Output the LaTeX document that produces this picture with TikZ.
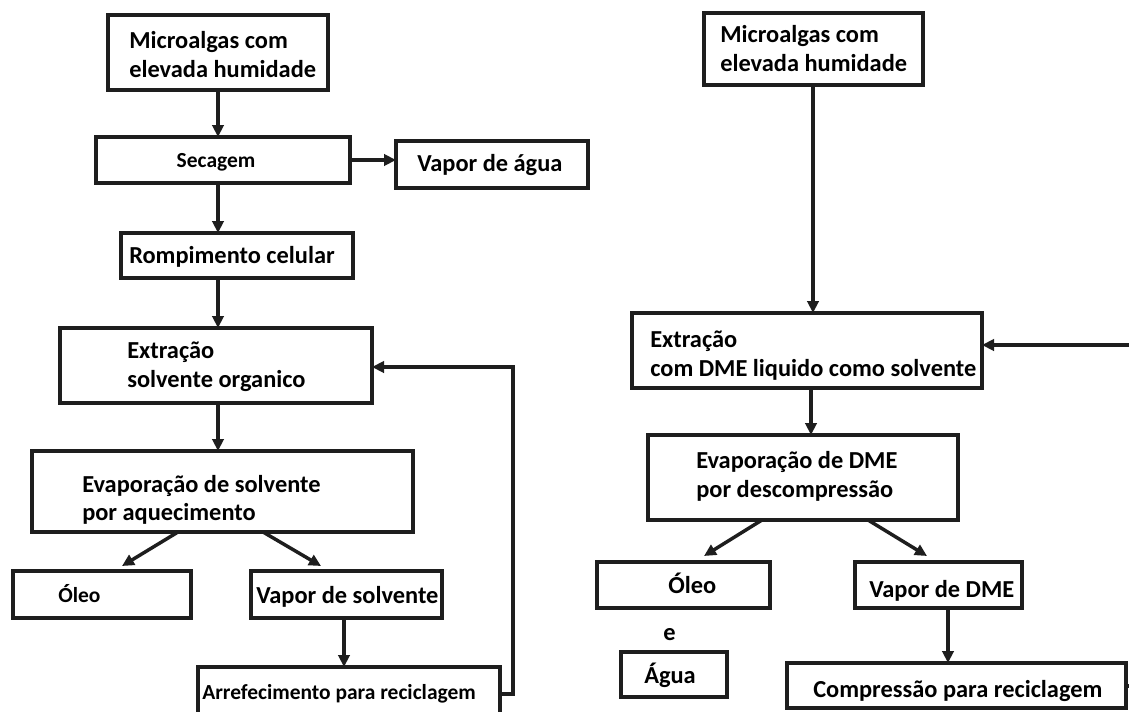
\documentclass[tikz,border=0pt]{standalone}
\usepackage{fontspec}
\setmainfont{Carlito}
\usetikzlibrary{arrows.meta,calc}
\definecolor{ink}{HTML}{1E1E1E}

% one unit = one pixel of the 1129 x 711 canvas, y grows downwards
\tikzset{
  x=0.75pt, y=-0.75pt,
  box/.style={draw=ink, line width=2.4pt, rectangle, inner sep=0pt, outer sep=0pt},
  arr/.style={draw=ink, line width=2.6pt, -{Triangle[length=9pt,width=8.5pt]}},
  plain/.style={draw=ink, line width=2.6pt},
  big/.style={anchor=base west, inner sep=0pt, text=black,
              font=\fontsize{18.3}{22}\selectfont\bfseries},
  small/.style={big, font=\fontsize{16.1}{19}\selectfont\bfseries},
}

% \pbox{name}{x1}{y1}{x2}{y2}: empty framed box from top-left to bottom-right
\newcommand\pbox[5]{%
  \node[box, anchor=north west,
        minimum width={(#4-#2)*0.75pt}, minimum height={(#5-#3)*0.75pt}]
        (#1) at (#2,#3) {};}

\begin{document}
\begin{tikzpicture}
\useasboundingbox (0,0) rectangle (1129,711);

% ---------- conventional route ----------
\pbox{mL}{108}{15}{328}{90}
\pbox{sec}{96}{137}{350}{183}
\pbox{vag}{396}{141}{588}{188}
\pbox{rom}{121}{233}{353}{278}
\pbox{exL}{60}{328}{372}{403}
\pbox{evL}{32}{451}{413}{532}
\pbox{olL}{13}{571}{191}{618}
\pbox{vsol}{251}{571}{442}{618}
\pbox{cool}{198}{667}{500}{740}

\node[big] (tmL1) at (129,48) {Microalgas com};
\node[big] (tmL2) at (129,77) {elevada humidade};
\node[small, anchor=base] (tsec) at (216,167) {Secagem};
\node[big] (tvag) at (417,171) {Vapor de água};
\node[big] (trom) at (129,263) {Rompimento celular};
\node[big] (texL1) at (127,358) {Extração};
\node[big] (texL2) at (127,387) {solvente organico};
\node[big] (tevL1) at (82,492) {Evaporação de solvente};
\node[big] (tevL2) at (82,520) {por aquecimento};
\node[small] (tolL) at (58,602) {Óleo};
\node[big] (tvsol) at (256,603) {Vapor de solvente};
\node[small] (tcool) at (202,699) {Arrefecimento para reciclagem};

% branch points on the box edges
\coordinate (dL1) at ($(evL.south west)+(146,0)$);
\coordinate (dL2) at ($(evL.south west)+(231,0)$);
\coordinate (vs) at ($(vsol.south west)+(93,0)$);

\draw[arr] (mL.south) -- (mL.south |- sec.north);
\draw[arr] (sec.east) -- (sec.east -| vag.west);
\draw[arr] (sec.south -| mL.south) -- (rom.north -| mL.south);
\draw[arr] (rom.south -| mL.south) -- (exL.north -| mL.south);
\draw[arr] (exL.south -| mL.south) -- (evL.north -| mL.south);
\draw[arr] (dL1) -- ($(olL.north west)+(109,-5)$);
\draw[arr] (dL2) -- ($(vsol.north west)+(70,-5)$);
\draw[arr] (vs) -- (vs |- cool.north);
\draw[arr] ($(cool.north east)+(0,27)$) -- ++(13,0) |- ($(exL.north east)+(0,39)$);

% ---------- DME route ----------
\pbox{mR}{704}{13}{923}{85}
\pbox{exR}{632}{313}{982}{388}
\pbox{evR}{648}{435}{958}{520}
\pbox{olR}{597}{562}{770}{608}
\pbox{agua}{621}{652}{727}{697}
\pbox{vdme}{855}{562}{1022}{608}
\pbox{comp}{787}{663}{1126}{708}

\node[big] (tmR1) at (720,42) {Microalgas com};
\node[big] (tmR2) at (720,71) {elevada humidade};
\node[big] (texR1) at (650,347) {Extração};
\node[big] (texR2) at (650,376) {com DME liquido como solvente};
\node[big] (tevR1) at (696,468) {Evaporação de DME};
\node[big] (tevR2) at (696,497) {por descompressão};
\node[big] (tolR) at (668,593) {Óleo};
\node[big] (te) at (663,640) {e};
\node[big] (tagua) at (644,683) {Água};
\node[big] (tvdme) at (869,597) {Vapor de DME};
\node[big] (tcomp) at (813,697) {Compressão para reciclagem};

\coordinate (inR) at (1129,345);
\coordinate (outR) at (1129,686);
\coordinate (mRo) at ($(mR.south west)+(109,0)$);
\coordinate (exRo) at ($(exR.south west)+(179,0)$);
\coordinate (dR1) at ($(evR.south west)+(114,0)$);
\coordinate (dR2) at ($(evR.south west)+(220,0)$);
\coordinate (vd) at ($(vdme.south west)+(93,0)$);

\draw[arr] (mRo) -- (mRo |- exR.north);
\draw[arr] (inR) -- (inR -| exR.east);
\draw[arr] (exRo) -- (exRo |- evR.north);
\draw[arr] (dR1) -- ($(olR.north west)+(107,-6)$);
\draw[arr] (dR2) -- ($(vdme.north west)+(72,-6)$);
\draw[arr] (vd) -- (vd |- comp.north);
\draw[plain] (comp.east |- outR) -- (outR);

\end{tikzpicture}
\end{document}
